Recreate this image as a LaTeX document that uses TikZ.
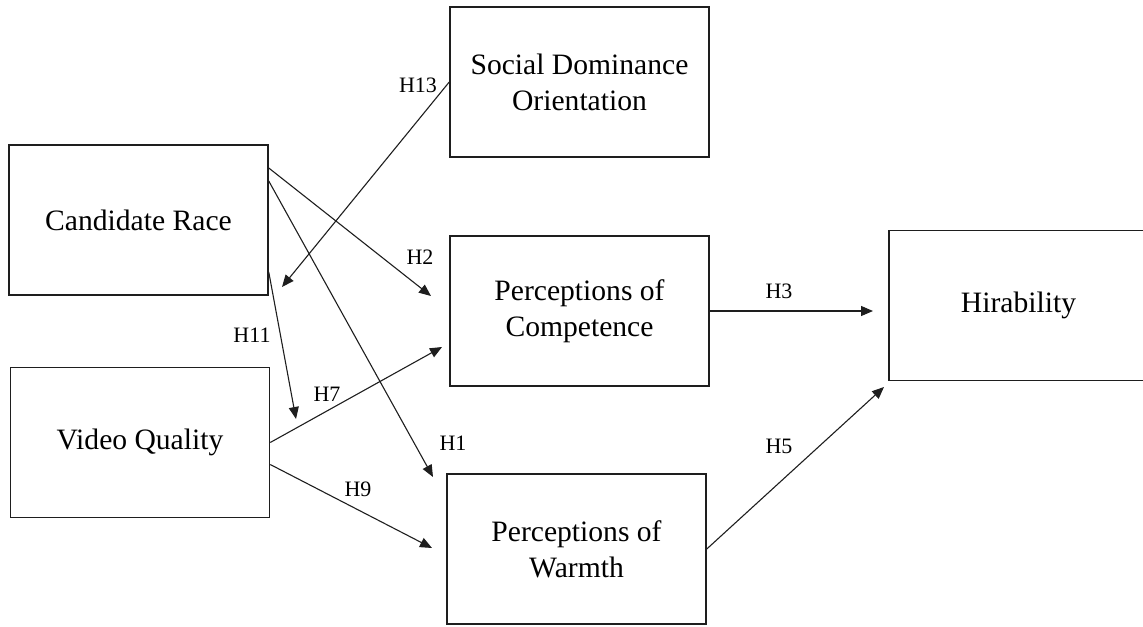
\documentclass[tikz,border=0pt]{standalone}
\usepackage{fontspec}
\setmainfont{Liberation Serif}
\usetikzlibrary{positioning,arrows.meta,calc}
\definecolor{linegray}{RGB}{30,30,30}

\begin{document}
\begin{tikzpicture}[x=0.5pt,y=-0.5pt,
    construct/.style={draw=linegray,line width=0.75pt,minimum width=129.5pt,
        minimum height=75pt,inner sep=0pt,align=center,
        font=\fontsize{14.8}{18}\selectfont},
    hyp/.style={-{Triangle[length=6pt,width=5pt]},line width=0.55pt,linegray},
    hlabel/.style={font=\fontsize{11}{13}\selectfont,inner sep=0pt}]
    \useasboundingbox (0,0) rectangle (1143,626);
    % Construtos
    \node[construct] (race) at (138.5,220) {Candidate Race};
    \node[construct] (video) at (140,442.5) {Video Quality};
    \node[construct] (sdo) at (579.5,82) {Social Dominance\\Orientation};
    \node[construct] (comp) at (579.5,311) {Perceptions of\\Competence};
    \node[construct] (warm) at (576.5,549) {Perceptions of\\Warmth};
    \node[construct] (hire) at (1018.5,305.5) {Hirability};
    % Pontas livres das setas
    \coordinate (e13) at (282,287);
    \coordinate (e2) at (431,296);
    \coordinate (e1) at (433,477);
    \coordinate (e11) at (296,419);
    \coordinate (e7) at (442,347);
    \coordinate (e9) at (432,548);
    \coordinate (e3) at (873,311);
    \coordinate (e5) at (884,387);
    % Hipoteses
    \draw[hyp] (sdo.west) -- (e13);
    \draw[hyp] ($(race.east)+(0,-52)$) -- (e2);
    \draw[hyp] ($(race.east)+(0,-39)$) -- (e1);
    \draw[hyp] ($(race.east)+(0,52)$) -- (e11);
    \draw[hyp] (video.east) -- (e7);
    \draw[hyp] ($(video.east)+(0,22)$) -- (e9);
    \draw[hyp] (comp.east) -- (e3);
    \draw[hyp] (warm.east) -- (e5);
    % Rotulos
    \foreach \h/\x/\y in {H13/418/85,H2/420/257,H11/252/335,H7/327/394,
                          H1/453/443,H9/358/489,H3/779/291,H5/779/446}{
        \node[hlabel] (l\h) at (\x,\y) {\h};
    }
\end{tikzpicture}
\end{document}
